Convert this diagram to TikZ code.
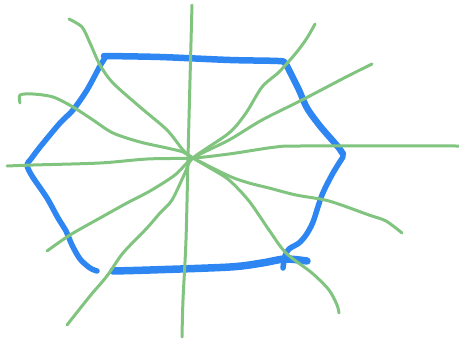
\documentclass[tikz,border=0pt]{standalone}
\begin{document}
\begin{tikzpicture}[x=1pt,y=-1pt,
  hexline/.style={draw=hexblue,line width=5.5pt,line cap=round,line join=round},
  ray/.style={draw=raygreen,line width=3pt,line cap=round,line join=round}]
\definecolor{hexblue}{RGB}{45,134,242}
\definecolor{raygreen}{RGB}{128,196,128}
\useasboundingbox (0,0) rectangle (459,346);
\coordinate (c) at (193,158);
% blue hexagon strokes
\draw[hexline] plot[smooth,tension=0.5] coordinates {(97,271) (90,268) (80,259) (72,245) (66,231) (58,218) (47,198) (32,176) (27,165) (31,159) (40,147) (60,123) (73,110) (87,90) (100,66) (105,58)};
\draw[hexline,line width=6.5pt] plot[smooth,tension=0.5] coordinates {(104,56) (160,57) (230,60) (278,61) (285,63) (290,72) (299,90) (307,108) (320,126) (333,141) (339,148) (343,154)};
\draw[hexline] plot[smooth,tension=0.5] coordinates {(343,157) (333,173) (322,195) (313,222) (306,235) (299,243) (289,249) (285,256) (283,268)};
\draw[hexline,line width=7.5pt] plot[smooth,tension=0.5] coordinates {(113,271) (150,270) (230,267) (262,263) (285,259) (307,261)};
% green rays
\draw[ray] plot[smooth,tension=0.5] coordinates {(192,5) (190,80) (188,158) (186,240) (183,300) (182,337)};
\draw[ray] plot[smooth,tension=0.5] coordinates {(69,19) (82,27) (90,43) (100,65) (113,83) (140,107) (167,130) (183,150) (c) (210,168) (229,180) (249,201) (269,230) (286,253) (312,273) (329,290) (337,305) (339,313)};
\draw[ray] plot[smooth,tension=0.5] coordinates {(20,103) (20,95) (33,94) (53,97) (73,107) (93,120) (113,133) (140,142) (167,148) (183,152) (c) (229,176) (249,183) (269,188) (296,195) (329,201) (369,215) (386,221) (402,233)};
\draw[ray] plot[smooth,tension=0.5] coordinates {(7,166) (33,165) (100,163) (147,159) (c) (229,154) (255,150) (276,147) (300,146) (459,146)};
\draw[ray] plot[smooth,tension=0.5] coordinates {(315,24) (307,38) (296,53) (279,72) (262,87) (246,113) (229,133) (c) (185,173) (172,200) (160,213) (147,228) (123,253) (107,276) (90,296) (67,325)};
\draw[ray] plot[smooth,tension=0.5] coordinates {(372,64) (346,77) (302,100) (262,120) (229,140) (c) (175,175) (150,191) (127,203) (100,218) (70,235) (47,251)};
\end{tikzpicture}
\end{document}
